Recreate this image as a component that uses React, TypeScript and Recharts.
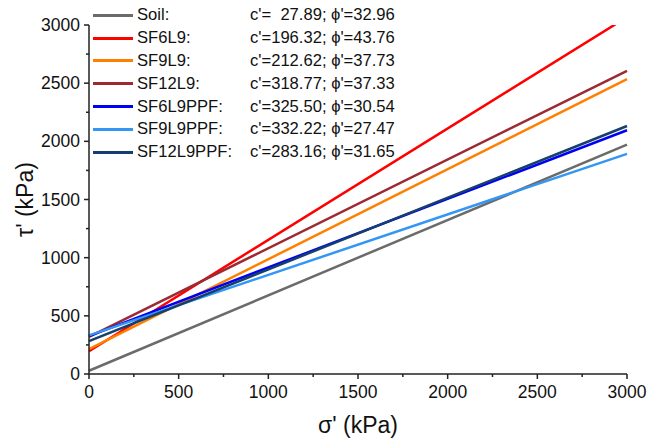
import { Label, Line, LineChart, XAxis, YAxis } from 'recharts'

const seriesNames = ['Soil', 'SF6L9', 'SF9L9', 'SF12L9', 'SF6L9PPF', 'SF9L9PPF', 'SF12L9PPF']
const fitLabels = [
  "c'=  27.89; ϕ'=32.96",
  "c'=196.32; ϕ'=43.76",
  "c'=212.62; ϕ'=37.73",
  "c'=318.77; ϕ'=37.33",
  "c'=325.50; ϕ'=30.54",
  "c'=332.22; ϕ'=27.47",
  "c'=283.16; ϕ'=31.65",
]
const seriesColors = ['#6b6b6b', '#ff0000', '#ff7f00', '#9c2a32', '#0000f5', '#3396f5', '#143f6e']

// tau' read at the two ends of the sigma' range
const sigmaEnds = [0, 3000]
const tauAtStart = [28, 196, 213, 319, 326, 332, 283]
const tauAtEnd = [1972, 3068, 2534, 2606, 2095, 1892, 2132]

const axisTicks = [0, 250, 500, 750, 1000, 1250, 1500, 1750, 2000, 2250, 2500, 2750, 3000]

const FONT = '"Liberation Sans", Arial, sans-serif'
const AXIS_COLOR = '#222'

const chartData = sigmaEnds.map((sigma, i) => {
  const row: Record<string, number> = { sigma }
  seriesNames.forEach((name, s) => {
    row[name] = i === 0 ? tauAtStart[s] : tauAtEnd[s]
  })
  return row
})

function XTick({ x, y, payload }: any) {
  const major = payload.value % 500 === 0
  return (
    <g>
      <line x1={x} y1={y} x2={x} y2={y + (major ? 5 : 3)} stroke={AXIS_COLOR} strokeWidth={1.5} />
      {major && (
        <text x={x} y={y + 24} textAnchor="middle" fontSize={17.5} fill="#111" fontFamily={FONT}>
          {payload.value}
        </text>
      )}
    </g>
  )
}

function YTick({ x, y, payload }: any) {
  const major = payload.value % 500 === 0
  return (
    <g>
      <line x1={x} y1={y} x2={x - (major ? 5 : 3)} y2={y} stroke={AXIS_COLOR} strokeWidth={1.5} />
      {major && (
        <text x={x - 9} y={y + 6} textAnchor="end" fontSize={17.5} fill="#111" fontFamily={FONT}>
          {payload.value}
        </text>
      )}
    </g>
  )
}

function FitLegend() {
  return (
    <div
      style={{
        position: 'absolute',
        left: 93,
        top: 4,
        fontFamily: FONT,
        fontSize: 16.6,
        color: '#111',
        pointerEvents: 'none',
      }}
    >
      {seriesNames.map((name, i) => (
        <div key={name} style={{ display: 'flex', alignItems: 'center', height: 22.8 }}>
          <span
            style={{ display: 'inline-block', width: 40, height: 3, background: seriesColors[i] }}
          />
          <span style={{ marginLeft: 4, width: 113 }}>{name}:</span>
          <span style={{ whiteSpace: 'pre' }}>{fitLabels[i]}</span>
        </div>
      ))}
    </div>
  )
}

export default function App() {
  return (
    <div style={{ position: 'absolute', left: 0, top: 0, width: 661, height: 439, background: '#fff' }}>
      <LineChart
        width={661}
        height={439}
        data={chartData}
        margin={{ top: 25, right: 34, bottom: 0, left: 0 }}
      >
        <XAxis
          type="number"
          dataKey="sigma"
          domain={[0, 3000]}
          ticks={axisTicks}
          interval={0}
          height={65}
          tickSize={0}
          tickMargin={0}
          tickLine={false}
          axisLine={{ stroke: AXIS_COLOR, strokeWidth: 1.5 }}
          tick={<XTick />}
        >
          <Label
            content={({ viewBox }: any) => (
              <text
                x={viewBox.x + viewBox.width / 2}
                y={viewBox.y + 59}
                textAnchor="middle"
                fontSize={23}
                fill="#111"
                fontFamily={FONT}
              >
                σ' (kPa)
              </text>
            )}
          />
        </XAxis>
        <YAxis
          type="number"
          domain={[0, 3000]}
          allowDataOverflow
          ticks={axisTicks}
          interval={0}
          width={89}
          tickSize={0}
          tickMargin={0}
          tickLine={false}
          axisLine={{ stroke: AXIS_COLOR, strokeWidth: 1.5 }}
          tick={<YTick />}
        >
          <Label
            content={({ viewBox }: any) => {
              const cx = viewBox.x + 33
              const cy = viewBox.y + viewBox.height / 2
              return (
                <text
                  x={cx}
                  y={cy}
                  transform={`rotate(-90 ${cx} ${cy})`}
                  textAnchor="middle"
                  fontSize={23}
                  fill="#111"
                  fontFamily={FONT}
                >
                  τ' (kPa)
                </text>
              )
            }}
          />
        </YAxis>
        {seriesNames.map((name, i) => (
          <Line
            key={name}
            type="linear"
            dataKey={name}
            stroke={seriesColors[i]}
            strokeWidth={2.5}
            dot={false}
            activeDot={false}
            isAnimationActive={false}
          />
        ))}
      </LineChart>
      <FitLegend />
    </div>
  )
}
